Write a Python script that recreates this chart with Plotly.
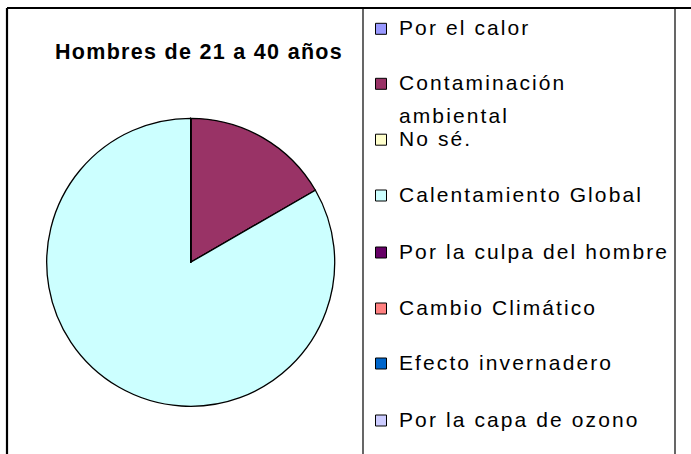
import plotly.graph_objects as go

# Survey answers: "Why is the climate changing?" (men aged 21-40)
categories = [
    "Por el calor",
    "Contaminación ambiental",
    "No sé.",
    "Calentamiento Global",
    "Por la culpa del hombre",
    "Cambio Climático",
    "Efecto invernadero",
    "Por la capa de ozono",
]
responses = [0, 1, 0, 5, 0, 0, 0, 0]
colors = ["#9999FF", "#993366", "#FFFFCC", "#CCFFFF",
          "#660066", "#FF8080", "#0066CC", "#CCCCFF"]
title_text = "Hombres de 21 a 40 años"

W, H = 691, 454
FONT = "Liberation Sans, Arial, sans-serif"


def px(x):
    return x / W


def py(y):
    return 1 - y / H


fig = go.Figure()
fig.add_trace(go.Pie(
    labels=categories,
    values=responses,
    sort=False,
    direction="clockwise",
    rotation=0,
    marker=dict(colors=colors, line=dict(color="black", width=1.3)),
    textinfo="none",
    showlegend=False,
    domain=dict(x=[px(46.7), px(334.7)], y=[py(406.3), py(118.3)]),
))

annotations = []
shapes = []

# chart title
annotations.append(dict(
    text=f'<span style="letter-spacing:1.3px"><b>{title_text}</b></span>',
    x=px(199), y=py(52.5), xref="paper", yref="paper",
    xanchor="center", yanchor="middle", showarrow=False,
    font=dict(family=FONT, size=21.5, color="black"),
))

# legend: rows of swatch + label, long labels wrapped onto two lines
row_centers = [28.8, 83.8, 139.7, 195.5, 252.5, 308.5, 363.5, 420.5]
wrap = {"Contaminación ambiental": ["Contaminación", "ambiental"]}
for name, col, yc in zip(categories, colors, row_centers):
    shapes.append(dict(
        type="rect", xref="paper", yref="paper",
        x0=px(375.5), x1=px(386.5), y0=py(yc - 5.5), y1=py(yc + 5.5),
        fillcolor=col, line=dict(color="black", width=1),
    ))
    lines = wrap.get(name, [name])
    for i, line in enumerate(lines):
        annotations.append(dict(
            text=f'<span style="letter-spacing:2.1px">{line}</span>',
            x=px(397), y=py(yc - 1 + i * 32.7), xref="paper", yref="paper",
            xanchor="left", yanchor="middle", showarrow=False,
            font=dict(family=FONT, size=21, color="black"),
        ))

# chart frame and legend box
frame = [
    (7, 8, W, 8, 2.2),
    (7, 8, 7, H, 2.2),
    (363, 8, 363, H, 1.2),
    (675, 8, 675, H, 1.2),
]
for x0, y0, x1, y1, w in frame:
    shapes.append(dict(
        type="line", xref="paper", yref="paper",
        x0=px(x0), y0=py(y0), x1=px(x1), y1=py(y1),
        line=dict(color="black", width=w),
    ))

fig.update_layout(
    width=W, height=H,
    margin=dict(l=0, r=0, t=0, b=0),
    paper_bgcolor="white", plot_bgcolor="white",
    annotations=annotations, shapes=shapes,
    showlegend=False,
)

fig.write_html("out.html")
